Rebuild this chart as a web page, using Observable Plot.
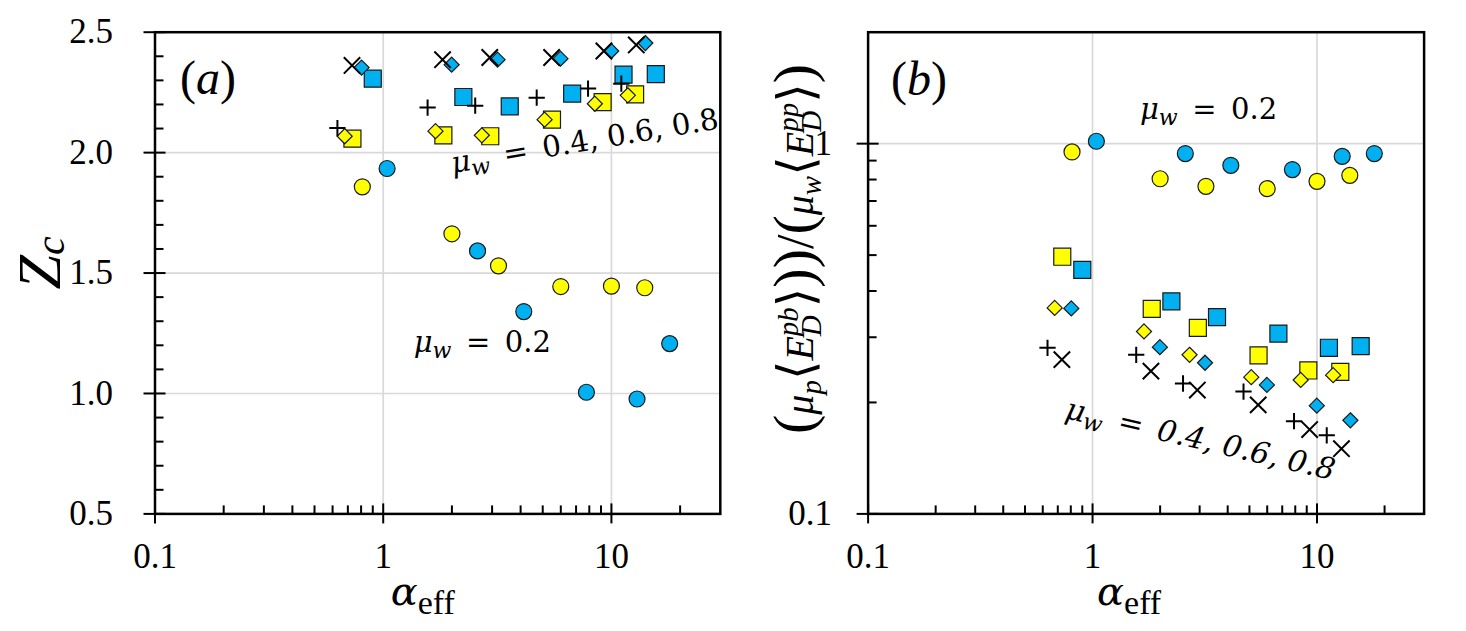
<!DOCTYPE html>
<html><head><meta charset="utf-8">
<script src="https://cdn.jsdelivr.net/npm/d3@7"></script>
<script src="https://cdn.jsdelivr.net/npm/@observablehq/plot@0.6"></script>
<style>
html,body{margin:0;padding:0;background:#fff;}
#wrap{display:flex;width:1466px;height:631px;overflow:hidden;}
svg{display:block;}
</style></head><body><div id="wrap"></div>
<script>
// ---------- data ----------
const alphaYellowCircle  = [0.81, 2.0, 3.2, 6.0, 10.0, 14.0];
const alphaBlueCircle    = [1.04, 2.59, 4.13, 7.77, 12.95, 18.0];
const alphaYellowSquare  = [0.733, 1.835, 2.945, 5.49, 9.15, 12.7];
const alphaBlueSquare    = [0.90, 2.245, 3.585, 6.73, 11.3, 15.65];
const alphaYellowDiamond = [0.678, 1.695, 2.705, 5.095, 8.46, 11.8];
const alphaBlueDiamond   = [0.804, 1.995, 3.17, 5.98, 9.98, 14.08];
const alphaPlus          = [0.63, 1.565, 2.53, 4.705, 7.9, 11.05];
const alphaCross         = [0.73, 1.82, 2.93, 5.47, 9.27, 12.85];

// panel (a): Z_c
const zcYellowCircle  = [1.858, 1.663, 1.530, 1.444, 1.446, 1.439];
const zcBlueCircle    = [1.934, 1.592, 1.340, 1.005, 0.977, 1.207];
const zcYellowSquare  = [2.058, 2.072, 2.068, 2.137, 2.210, 2.242];
const zcBlueSquare    = [2.307, 2.231, 2.192, 2.245, 2.324, 2.326];
const zcYellowDiamond = [2.068, 2.089, 2.072, 2.137, 2.203, 2.238];
const zcBlueDiamond   = [2.353, 2.365, 2.386, 2.390, 2.422, 2.455];
const zcPlus          = [2.102, 2.187, 2.195, 2.228, 2.266, 2.286];
const zcCross         = [2.362, 2.386, 2.395, 2.395, 2.422, 2.447];

// panel (b): energy ratio
const ratioYellowCircle  = [0.950, 0.804, 0.767, 0.756, 0.791, 0.821];
const ratioBlueCircle    = [1.015, 0.940, 0.874, 0.851, 0.924, 0.940];
const ratioYellowSquare  = [0.495, 0.358, 0.318, 0.268, 0.244, 0.242];
const ratioBlueSquare    = [0.456, 0.375, 0.340, 0.307, 0.281, 0.284];
const ratioYellowDiamond = [0.360, 0.311, 0.269, 0.234, 0.230, 0.237];
const ratioBlueDiamond   = [0.359, 0.282, 0.256, 0.223, 0.196, 0.179];
const ratioPlus          = [0.281, 0.269, 0.225, 0.214, 0.178, 0.163];
const ratioCross         = [0.261, 0.243, 0.216, 0.197, 0.169, 0.150];

// ticks
const xMajorTicks = [0.1, 1, 10];
const xMinorTicks = [0.2,0.3,0.4,0.5,0.6,0.7,0.8,0.9,2,3,4,5,6,7,8,9,20];
const xGridTicks = [1, 10];
const zMajorTicks = [0.5, 1.0, 1.5, 2.0, 2.5];
const zMinorTicks = [0.6,0.7,0.8,0.9,1.1,1.2,1.3,1.4,1.6,1.7,1.8,1.9,2.1,2.2,2.3,2.4];
const zGridTicks = [1.0, 1.5, 2.0];
const ratioMajorTicks = [0.1, 1];
const ratioMinorTicks = [0.2,0.3,0.4,0.5,0.6,0.7,0.8,0.9];
const ratioGridTicks = [1];

// ---------- styling ----------
const YELLOW = "#FFFF00", BLUE = "#00B0F0", EDGE = "#1a1a1a";
const H = 631, TOP = 31.7, BOTTOM = 117.6;
const W1 = 733, W2 = 733;
const mA = {l: 154.5, r: 13.2}, mB = {l: 134.6, r: 42.4};

const pts = (xs, ys) => xs.map((x, i) => ({x, y: ys[i]}));

function seriesMarks(ys) {
  const [yc, bc, ys_, bs, yd, bd, pl, cr] = ys;
  return [
    Plot.dot(pts(alphaYellowCircle, yc), {x: "x", y: "y", symbol: "circle", r: 8, fill: YELLOW, stroke: EDGE, strokeWidth: 1.2}),
    Plot.dot(pts(alphaBlueCircle, bc), {x: "x", y: "y", symbol: "circle", r: 8, fill: BLUE, stroke: EDGE, strokeWidth: 1.2}),
    Plot.dot(pts(alphaYellowSquare, ys_), {x: "x", y: "y", symbol: "square", r: 9.6, fill: YELLOW, stroke: EDGE, strokeWidth: 1.2}),
    Plot.dot(pts(alphaBlueSquare, bs), {x: "x", y: "y", symbol: "square", r: 9.6, fill: BLUE, stroke: EDGE, strokeWidth: 1.2}),
    Plot.dot(pts(alphaYellowDiamond, yd), {x: "x", y: "y", symbol: "diamond2", r: 6.8, fill: YELLOW, stroke: EDGE, strokeWidth: 1.2}),
    Plot.dot(pts(alphaBlueDiamond, bd), {x: "x", y: "y", symbol: "diamond2", r: 6.8, fill: BLUE, stroke: EDGE, strokeWidth: 1.2}),
    Plot.dot(pts(alphaPlus, pl), {x: "x", y: "y", symbol: "plus", r: 5.3, stroke: "#000", strokeWidth: 2}),
    Plot.dot(pts(alphaCross, cr), {x: "x", y: "y", symbol: "times", r: 7.5, stroke: "#000", strokeWidth: 2})
  ];
}

function tickMarks(plotW, plotH, xMaj, xMin, yMaj, yMin) {
  return [
    Plot.tickX(xMin, {stroke: "#000", strokeWidth: 2, insetTop: plotH - 8}),
    Plot.tickX(xMaj, {stroke: "#000", strokeWidth: 2, insetTop: plotH - 10, insetBottom: -10}),
    Plot.tickY(yMin, {stroke: "#000", strokeWidth: 2, insetRight: plotW - 9}),
    Plot.tickY(yMaj, {stroke: "#000", strokeWidth: 2, insetRight: plotW - 11, insetLeft: -11})
  ];
}

const gridStyle = {stroke: "#d9d9d9", strokeOpacity: 1, strokeWidth: 1.7};
const plotHpx = H - TOP - BOTTOM;

const plotA = Plot.plot({
  width: W1, height: H,
  marginLeft: mA.l, marginRight: mA.r, marginTop: TOP, marginBottom: BOTTOM,
  x: {type: "log", domain: [0.1, 30]},
  y: {domain: [0.5, 2.5]},
  style: {fontFamily: "Liberation Serif", fontSize: "35px", background: "white", overflow: "visible", color: "#000"},
  marks: [
    Plot.gridX(xGridTicks, gridStyle),
    Plot.gridY(zGridTicks, gridStyle),
    ...seriesMarks([zcYellowCircle, zcBlueCircle, zcYellowSquare, zcBlueSquare, zcYellowDiamond, zcBlueDiamond, zcPlus, zcCross]),
    ...tickMarks(W1 - mA.l - mA.r, plotHpx, xMajorTicks, xMinorTicks, zMajorTicks, zMinorTicks),
    Plot.axisX(xMajorTicks, {tickSize: 0, tickPadding: 29, fontSize: 35, fontFamily: "Liberation Serif", tickFormat: d => String(d), label: null}),
    Plot.axisY(zMajorTicks, {tickSize: 0, tickPadding: 42, fontSize: 35, fontFamily: "Liberation Serif", tickFormat: d3.format(".1f"), label: null}),
    Plot.frame({stroke: "#000", strokeWidth: 2.5})
  ]
});

const plotB = Plot.plot({
  width: W2, height: H,
  marginLeft: mB.l, marginRight: mB.r, marginTop: TOP, marginBottom: BOTTOM,
  x: {type: "log", domain: [0.1, 30]},
  y: {type: "log", domain: [0.1, 2]},
  style: {fontFamily: "Liberation Serif", fontSize: "35px", background: "white", overflow: "visible", color: "#000"},
  marks: [
    Plot.gridX(xGridTicks, gridStyle),
    Plot.gridY(ratioGridTicks, gridStyle),
    ...seriesMarks([ratioYellowCircle, ratioBlueCircle, ratioYellowSquare, ratioBlueSquare, ratioYellowDiamond, ratioBlueDiamond, ratioPlus, ratioCross]),
    ...tickMarks(W2 - mB.l - mB.r, plotHpx, xMajorTicks, xMinorTicks, ratioMajorTicks, ratioMinorTicks),
    Plot.axisX(xMajorTicks, {tickSize: 0, tickPadding: 29, fontSize: 35, fontFamily: "Liberation Serif", tickFormat: d => String(d), label: null}),
    Plot.axisY(ratioMajorTicks, {tickSize: 0, tickPadding: 36, fontSize: 35, fontFamily: "Liberation Serif", tickFormat: d => String(d), label: null}),
    Plot.frame({stroke: "#000", strokeWidth: 2.5})
  ]
});

const wrap = document.getElementById("wrap");
wrap.append(plotA, plotB);

// ---------- rich text helper ----------
function rich(svg, {x, y, rotate = 0, anchor = "start", family, size, parts}) {
  const t = d3.select(svg).append("text")
    .attr("transform", `translate(${x},${y}) rotate(${rotate})`)
    .attr("text-anchor", anchor)
    .attr("font-family", family)
    .attr("font-size", size)
    .attr("fill", "#000")
    .style("white-space", "pre");
  let cur = 0, prevLen = 0, pending = 0;
  for (const p of parts) {
    const s = t.append("tspan").text(p.t);
    const shift = p.shift || 0;
    if (shift - cur) s.attr("dy", shift - cur);
    cur = shift;
    if (p.size) s.attr("font-size", p.size);
    s.attr("font-style", p.italic ? "italic" : "normal");
    if (p.family) s.attr("font-family", p.family);
    let dx = p.dx || 0;
    if (p.under) dx -= prevLen; else { dx += pending; pending = 0; }
    if (dx) s.attr("dx", dx);
    const len = s.node().getComputedTextLength();
    if (p.under) pending = Math.max(0, prevLen - len);
    prevLen = len;
  }
  return t;
}

const MATH = "DejaVu Serif";
const muW = (sz) => [
  {t: "μ", italic: true},
  {t: "w", italic: true, size: sz * 0.76, shift: 6}
];

function annotate(plot, cfg) {
  const sx = plot.scale("x"), sy = plot.scale("y");
  const X = v => sx.apply(v), Y = v => sy.apply(v);
  const svg = plot;
  // panel letter
  rich(svg, {x: X(cfg.letterX), y: Y(cfg.letterY), family: "Liberation Serif", size: 48,
    parts: [{t: "("}, {t: cfg.letter, italic: true}, {t: ")"}]});
  // mu_w = 0.2
  rich(svg, {x: X(cfg.lowX), y: Y(cfg.lowY), family: MATH, size: 29,
    parts: [...muW(29), {t: "\u2002=\u20020.2"}]});
  // rotated mu_w = 0.4, 0.6, 0.8
  rich(svg, {x: X(cfg.hiX), y: Y(cfg.hiY), rotate: cfg.hiRot, family: MATH, size: cfg.hiSize,
    parts: [...muW(cfg.hiSize), {t: "\u2002=\u2002"}, {t: "0.4, 0.6, 0.8", italic: cfg.hiItalic}]});
  // x label
  rich(svg, {x: X(1) + cfg.xlabDx, y: H - BOTTOM + 92, family: MATH, size: 40,
    parts: [{t: "α", italic: true}, {t: "eff", family: "Liberation Serif", size: 34, shift: 9}]});
}

annotate(plotA, {letter: "a", letterX: 0.1293, letterY: 2.241, lowX: 1.367, lowY: 1.170,
  hiX: 2.025, hiY: 1.913, hiRot: -9.5, hiItalic: false, hiSize: 29.5, xlabDx: 8});
annotate(plotB, {letter: "b", letterX: 0.1271, letterY: 1.346, lowX: 1.635, lowY: 1.159,
  hiX: 0.749, hiY: 0.181, hiRot: 13, hiItalic: true, hiSize: 30, xlabDx: 5});

// y labels
rich(plotA, {x: 60, y: 263, rotate: -90, anchor: "middle", family: "Liberation Serif", size: 62,
  parts: [{t: "Z", italic: true}, {t: "c", italic: true, size: 42, shift: 4}]});

const SERIF = "Liberation Serif", BR = "DejaVu Serif";
rich(plotB, {x: 813 - W1, y: 249, rotate: -90, anchor: "middle", family: SERIF, size: 40,
  parts: [
    {t: "(", italic: false, size: 58},
    {t: "μ", italic: true},
    {t: "p", italic: true, size: 29, shift: 8},
    {t: "⟨", family: BR, size: 50, shift: 0},
    {t: "E", italic: true},
    {t: "pb", italic: true, size: 29, shift: -15},
    {t: "D", italic: true, size: 29, shift: 8, under: true},
    {t: "⟩", family: BR, size: 50, shift: 0},
    {t: ")", size: 58},
    {t: ")", size: 58},
    {t: "/", size: 52},
    {t: "(", size: 58},
    {t: "μ", italic: true},
    {t: "w", italic: true, size: 29, shift: 8},
    {t: "⟨", family: BR, size: 50, shift: 0},
    {t: "E", italic: true},
    {t: "pp", italic: true, size: 29, shift: -15},
    {t: "D", italic: true, size: 29, shift: 8, under: true},
    {t: "⟩", family: BR, size: 50, shift: 0},
    {t: ")", size: 58}
  ]});
</script></body></html>
